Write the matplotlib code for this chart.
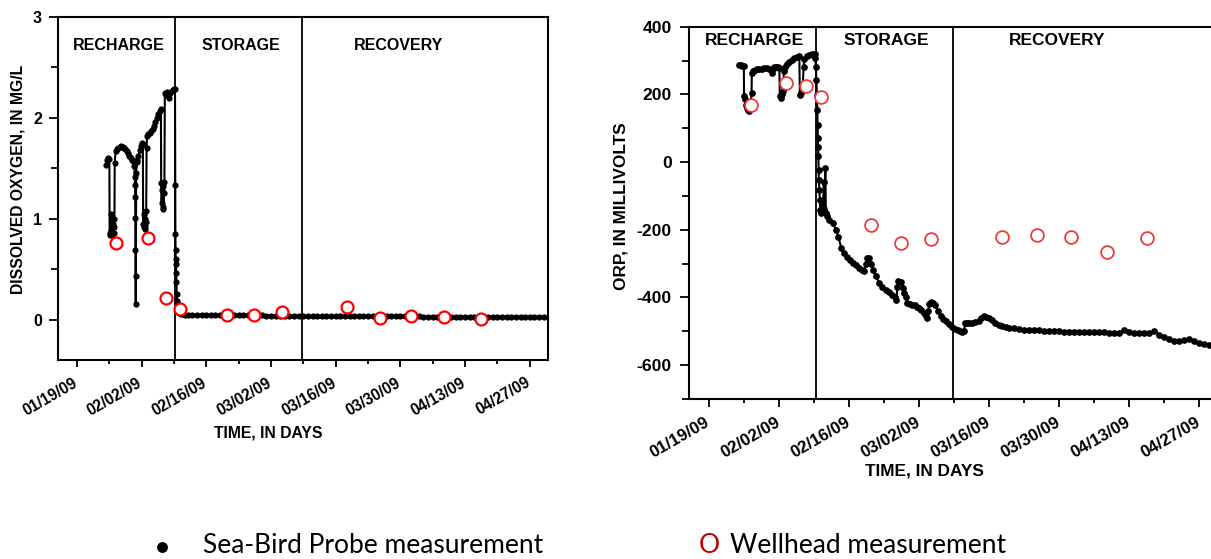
import datetime as dt
import numpy as np
import matplotlib
matplotlib.use("Agg")
import matplotlib.pyplot as plt
import matplotlib.dates as mdates
from matplotlib.font_manager import FontProperties
from matplotlib.lines import Line2D
from matplotlib.ticker import FixedLocator
from matplotlib.transforms import ScaledTranslation

# ---------------------------------------------------------------- data
START = dt.datetime(2009, 1, 19)          # day 0 of the day offsets below

date_labels = ["01/19/09", "02/02/09", "02/16/09", "03/02/09",
               "03/16/09", "03/30/09", "04/13/09", "04/27/09"]
phase_names = ["RECHARGE", "STORAGE", "RECOVERY"]
phase_bounds = [21.25, 48.7]              # recharge|storage, storage|recovery
phase_label_days = [9.0, 35.4, 69.6]

# Sea-Bird probe, dissolved oxygen (mg/L)
do_days = [6.25, 6.5, 6.8, 7.05, 7.1, 7.2, 7.35, 7.5, 7.65, 7.8, 7.95, 8.1, 8.15,
           8.2, 8.4, 8.7, 9.0, 9.3, 9.6, 9.9, 10.2, 10.5, 10.8, 11.1, 11.4, 11.7,
           12.0, 12.25, 12.45, 12.55, 12.6, 12.63, 12.66, 12.69, 12.72, 12.75,
           12.85, 12.95, 13.05, 13.3, 13.6, 13.9, 14.2, 14.3, 14.35, 14.45, 14.55,
           14.65, 14.75, 14.85, 14.95, 15.0, 15.1, 15.2, 15.5, 15.8, 16.1, 16.4,
           16.7, 17.0, 17.3, 17.6, 17.9, 18.2, 18.25, 18.35, 18.45, 18.55, 18.65,
           18.75, 18.85, 18.95, 19.05, 19.3, 19.6, 19.9, 20.2, 20.5, 20.8, 21.1,
           21.25, 21.3, 21.33, 21.36, 21.4, 21.45, 21.5, 21.56, 21.62, 21.7, 21.8,
           21.9, 22.0, 22.2, 22.5, 22.9, 23.4, 24.0] + list(range(25, 102))
do_vals = [1.53, 1.58, 1.60, 1.59, 0.86, 0.84, 1.05, 0.88, 0.84, 0.95, 0.86, 0.92, 1.00,
           1.55, 1.67, 1.69, 1.70, 1.71, 1.72, 1.71, 1.70, 1.69, 1.67, 1.65, 1.62, 1.60,
           1.58, 1.57, 1.52, 1.41, 1.33, 1.21, 1.01, 0.69, 0.43, 0.15,
           1.45, 1.56, 1.58, 1.62, 1.68, 1.72, 1.75, 1.74, 0.95, 0.92, 1.05,
           0.90, 1.00, 0.93, 1.08, 0.97, 1.70, 1.82, 1.84, 1.85, 1.87, 1.89,
           1.92, 1.96, 2.00, 2.04, 2.07, 2.09, 1.35, 1.15, 1.28, 1.10, 1.32,
           1.12, 1.25, 1.36, 2.24, 2.22, 2.25, 2.19, 2.24, 2.26, 2.27, 2.28,
           2.28, 1.33, 0.85, 0.69, 0.60, 0.55, 0.46, 0.37, 0.25, 0.18, 0.12,
           0.09, 0.075, 0.065, 0.06, 0.055, 0.05, 0.048,
           # daily readings, days 25-101
           0.046, 0.045, 0.045, 0.044, 0.044, 0.043, 0.043, 0.043, 0.042, 0.042,
           0.042, 0.042, 0.041, 0.041, 0.041, 0.041, 0.040, 0.040, 0.040, 0.040,
           0.040, 0.040, 0.040, 0.040, 0.036, 0.035, 0.035, 0.035, 0.034, 0.034,
           0.034, 0.034, 0.033, 0.033, 0.033, 0.033, 0.033, 0.032, 0.032, 0.032,
           0.032, 0.032, 0.032, 0.031, 0.031, 0.031, 0.031, 0.031, 0.031, 0.031,
           0.030, 0.030, 0.030, 0.030, 0.030, 0.030, 0.030, 0.030, 0.030, 0.030,
           0.030, 0.030, 0.030, 0.030, 0.030, 0.030, 0.030, 0.030, 0.030, 0.030,
           0.030, 0.030, 0.030, 0.030, 0.030, 0.030, 0.030]

# Sea-Bird probe, oxidation-reduction potential (mV)
orp_days = [6.0, 6.3, 6.6, 6.9, 6.95, 7.1, 7.3, 7.5, 7.7, 7.9, 8.1, 8.3, 8.45, 8.5,
            8.8, 9.2, 9.6, 10.0, 10.5, 11.0, 11.5, 12.0, 12.5, 12.7, 13.0, 13.4,
            13.8, 14.0, 14.1, 14.3, 14.5, 14.7, 14.85, 14.9, 15.2, 15.6, 16.0,
            16.5, 17.0, 17.5, 18.0, 18.1, 18.3, 18.5, 18.7, 18.85, 19.0, 19.5,
            20.0, 20.5, 21.0, 21.1, 21.2, 21.3, 21.4, 21.5, 21.6, 21.65, 21.7,
            21.75, 21.8, 21.85, 21.9, 22.0, 22.1, 22.2, 22.3, 22.5, 22.7, 22.9,
            23.0, 23.2, 23.3, 23.5, 24.0, 24.7, 25.3, 25.8, 26.4, 27.0, 27.6,
            28.2, 28.7, 29.4, 30.0, 30.6, 31.0, 31.3, 31.5, 31.9, 32.3, 32.7,
            33.3, 34.0, 34.6, 35.3, 36.0, 36.6, 37.1, 37.4, 37.6, 37.8, 38.3,
            38.7, 39.0, 39.3, 39.6, 40.1, 40.6, 41.1, 41.6, 42.0, 42.4, 42.9,
            43.3, 43.6, 43.8, 44.0, 44.3, 44.7, 45.2, 45.7, 46.3, 46.8, 47.3,
            47.9, 48.6, 49.2, 49.7, 50.2, 50.6, 50.9, 51.2, 51.6, 52.0, 52.6,
            53.2, 53.9, 54.4, 54.9, 55.4, 55.9, 56.5, 57.2, 57.9, 58.6, 59.3,
            60.0] + list(range(61, 102))
orp_vals = [287, 288, 285, 283, 195, 185, 170, 160, 155, 150, 165, 175, 205, 263,
            268, 272, 274, 275, 276, 277, 278, 276, 262, 275, 280, 282,
            281, 278, 194, 190, 200, 210, 230, 268, 282, 290, 297,
            303, 308, 311, 312, 199, 205, 215, 230, 282, 305, 312,
            315, 318, 320, 318, 307, 282, 243, 199, 154, 110, 71,
            46, 17, -23, -52, -82, -111, -141, -150, -120, -140, -60,
            -140, -18, -150, -160, -170, -180, -200, -220, -255, -268, -280,
            -290, -298, -305, -313, -320, -323, -300, -282, -284, -300, -318,
            -338, -357, -368, -377, -385, -392, -400, -407, -370, -350, -353,
            -372, -387, -400, -415, -420, -422, -423, -427, -430, -436, -445,
            -455, -462, -440, -418, -412, -415, -422, -440, -456, -464, -471,
            -478, -486, -492, -496, -500, -501, -499, -476, -475, -474, -474,
            -472, -470, -462, -456, -458, -461, -468, -474, -480, -484, -487,
            -489,
            # daily readings, days 61-101
            -491, -493, -495, -495, -496, -497, -498, -499, -500, -500,
            -502, -501, -503, -503, -502, -501, -502, -503, -503, -504,
            -505, -504, -496, -503, -506, -506, -506, -504, -500, -510,
            -518, -523, -528, -530, -527, -523, -530, -535, -538, -540,
            -541]

# Wellhead grab samples
wh_days = [8.4, 15.4, 19.4, 22.4, 32.4, 38.4, 44.4, 58.5, 65.5, 72.4, 79.5, 87.5]
wh_do = [0.76, 0.81, 0.21, 0.11, 0.05, 0.05, 0.08, 0.12, 0.02, 0.04, 0.03, 0.01]
wh_orp = [169, 235, 226, 191, -187, -238, -226, -220, -215, -220, -266, -224]

# ---------------------------------------------------------------- figure
W, H = 1211, 559
fig = plt.figure(figsize=(W / 100, H / 100), dpi=100)
BOLD = dict(family="Liberation Sans", weight="bold")

t0 = mdates.date2num(START)
major_dates = [mdates.date2num(dt.datetime.strptime(s, "%m/%d/%y")) for s in date_labels]
minor_dates = [d + 7 for d in major_dates]
xlim = (t0 - 4.0, t0 + 102.0)


def px_axes(x0, y0, x1, y1):
    return fig.add_axes([x0 / W, 1 - y1 / H, (x1 - x0) / W, (y1 - y0) / H])


def fpx(x, y):
    return x / W, 1 - y / H


def panel(ax, days, vals, wdays, wvals, ylim, ymaj, ymin, label_y,
          fs, scale, circ_color, circ_ms, circ_mew):
    ax.set_xlim(*xlim)
    ax.set_ylim(*ylim)
    ax.plot(t0 + np.asarray(days, float), vals, "-", color="black", lw=1.5,
            marker="o", ms=4.5 * scale, mfc="black", mec="black", mew=0, zorder=3)
    ax.plot(t0 + np.asarray(wdays, float), wvals, "o", ms=circ_ms, mfc="white",
            mec=circ_color, mew=circ_mew, zorder=4, clip_on=False)
    for b in phase_bounds:
        ax.axvline(t0 + b, color="black", lw=1.3, zorder=2)
    for name, d in zip(phase_names, phase_label_days):
        ax.text(t0 + d, label_y, name, ha="center", va="center",
                fontsize=fs + 0.3, **BOLD)

    ax.set_xticks(major_dates, labels=date_labels, rotation=30, ha="right",
                  va="top")
    ax.xaxis.set_minor_locator(FixedLocator(minor_dates))
    ax.set_yticks(ymaj, labels=[f"{v:d}" for v in ymaj])
    ax.yaxis.set_minor_locator(FixedLocator(ymin))

    for s in ax.spines.values():
        s.set_linewidth(1.5)
    ax.tick_params(axis="x", which="major", direction="out", length=5.3 * scale,
                   width=1.3, pad=5.5 * scale)
    ax.tick_params(axis="x", which="minor", direction="out", length=2.6 * scale,
                   width=1.3)
    ax.tick_params(axis="y", which="major", direction="out", length=6.3 * scale,
                   width=1.3, pad=5.5 * scale)
    ax.tick_params(axis="y", which="minor", direction="out", length=5.0 * scale,
                   width=1.3)
    shift = ScaledTranslation(3 / 100, 0, fig.dpi_scale_trans)
    for lab in ax.get_xticklabels():
        lab.set_fontproperties(FontProperties(family="Liberation Sans",
                                              weight="bold", size=fs))
        lab.set_transform(lab.get_transform() + shift)
    for lab in ax.get_yticklabels():
        lab.set_fontproperties(FontProperties(family="Liberation Sans",
                                              weight="bold", size=fs + 0.4))


# left: dissolved oxygen
ax1 = px_axes(58.3, 16.7, 548.3, 360.0)
panel(ax1, do_days, do_vals, wh_days, wh_do, (-0.4, 3.0), [0, 1, 2, 3],
      [0.5, 1.5, 2.5], 2.715, 11.2, 1.0, "#ff0000", 8.6, 1.6)

# right: ORP
ax2 = px_axes(689.3, 26.7, 1219.5, 399.0)
panel(ax2, orp_days, orp_vals, wh_days, wh_orp, (-700, 400),
      [-600, -400, -200, 0, 200, 400], [-700, -500, -300, -100, 100, 300],
      358, 12.2, 1.08, "#f03a3a", 9.2, 1.3)

# axis titles
fig.text(*fpx(18.3, 179), "DISSOLVED OXYGEN, IN MG/L", rotation=90,
         ha="center", va="center", fontsize=11.3, **BOLD)
fig.text(*fpx(268.3, 432.5), "TIME, IN DAYS", ha="center", va="center",
         fontsize=11.3, **BOLD)
fig.text(*fpx(621, 205.8), "ORP, IN MILLIVOLTS", rotation=90,
         ha="center", va="center", fontsize=12.4, **BOLD)
fig.text(*fpx(924.7, 470.7), "TIME, IN DAYS", ha="center", va="center",
         fontsize=12.4, **BOLD)

# key
fig.add_artist(Line2D([161.7 / W], [1 - 546.5 / H], marker="o", ms=6.8,
                      color="black", linestyle="none",
                      transform=fig.transFigure))
fig.text(*fpx(203, 553.0), "Sea-Bird Probe measurement", ha="left",
         va="baseline", fontsize=19, family="Lato", color="black")
fig.text(*fpx(699, 553.0), "O", ha="left", va="baseline", fontsize=19,
         family="Lato", color="#c00000")
fig.text(*fpx(730, 553.0), "Wellhead measurement", ha="left",
         va="baseline", fontsize=19, family="Lato", color="black")

fig.savefig("out.png", dpi=100)
